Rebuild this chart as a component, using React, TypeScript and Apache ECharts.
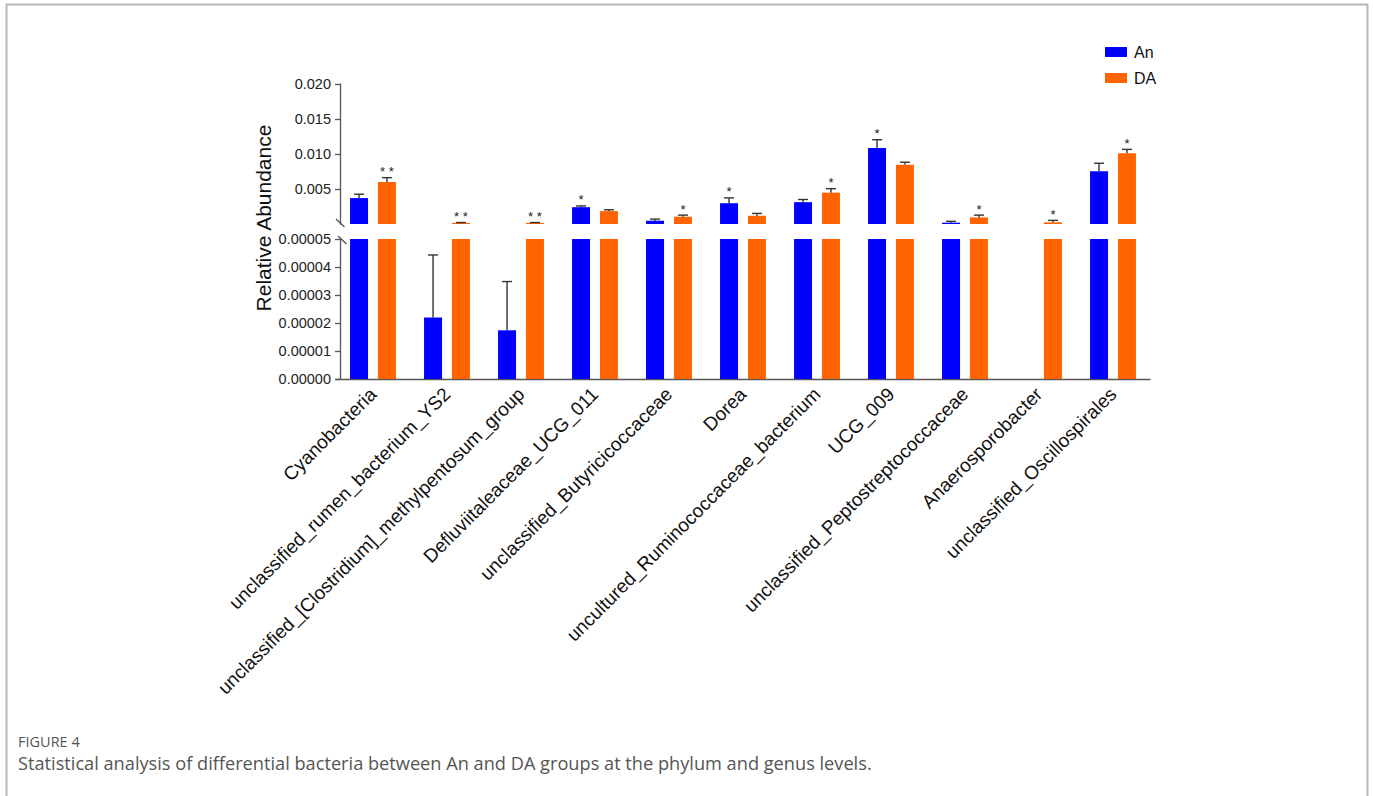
import React, { useEffect, useRef } from 'react';
import * as echarts from 'echarts';

const categories = [
  'Cyanobacteria',
  'unclassified_rumen_bacterium_YS2',
  'unclassified_[Clostridium]_methylpentosum_group',
  'Defluviitaleaceae_UCG_011',
  'unclassified_Butyricicoccaceae',
  'Dorea',
  'uncultured_Ruminococcaceae_bacterium',
  'UCG_009',
  'unclassified_Peptostreptococcaceae',
  'Anaerosporobacter',
  'unclassified_Oscillospirales',
];

const anValues = [0.0037, 0.000022, 0.0000174, 0.0024, 0.00047, 0.00297, 0.00312, 0.01086, 0.00019, 0, 0.00755];
const anErrors = [0.00056, 0.0000223, 0.0000174, 0.00018, 0.00023, 0.00076, 0.00038, 0.00118, 0.00019, 0, 0.00113];
const daValues = [0.006, 0.00016, 0.00016, 0.00184, 0.00104, 0.00118, 0.00448, 0.00845, 0.00094, 0.00024, 0.0101];
const daErrors = [0.00062, 0.00005, 0.00005, 0.00019, 0.00023, 0.00033, 0.00057, 0.00038, 0.00033, 0.00028, 0.00056];
const anStars = ['', '', '', '*', '', '*', '', '*', '', '', ''];
const daStars = ['* *', '* *', '* *', '', '*', '', '*', '', '*', '*', '*'];

const upperTickValues = [0.005, 0.01, 0.015, 0.02];
const lowerTickValues = [0, 0.00001, 0.00002, 0.00003, 0.00004, 0.00005];
const BREAK_VALUE = 0.00005;
const UPPER_MAX = 0.02;
const seriesNames = ['An', 'DA'];
const seriesColors = ['#0000FF', '#FF6400'];
const yAxisTitle = 'Relative Abundance';
const figureLabel = 'FIGURE 4';
const captionText = 'Statistical analysis of differential bacteria between An and DA groups at the phylum and genus levels.';

const FONT = '"Liberation Sans", Arial, Helvetica, sans-serif';
const CAPTION_FONT = '"Open Sans", "Noto Sans", sans-serif';
const BAR_W = 18;
const BAR_GAP = 0.55;
const OFFSET = (BAR_W + BAR_W * BAR_GAP) / 2;

function makeErrRender(sign: number, stars: string[], segment: 'upper' | 'lower') {
  return (params: any, api: any) => {
    const idx = api.value(0);
    const v = api.value(1);
    const e = api.value(2);
    const empty = { type: 'group', children: [] as any[] };
    if (segment === 'upper' && v < BREAK_VALUE) return empty;
    if (segment === 'lower' && (v >= BREAK_VALUE || v <= 0)) return empty;
    const base = api.coord([idx, v]);
    const top = api.coord([idx, v + e]);
    const x = base[0] + sign * OFFSET;
    const style = { stroke: '#333', lineWidth: 1.4 };
    const children: any[] = [
      { type: 'line', shape: { x1: x, y1: base[1], x2: x, y2: top[1] }, style },
      { type: 'line', shape: { x1: x - 5, y1: top[1], x2: x + 5, y2: top[1] }, style },
    ];
    const s = stars[params.dataIndex];
    if (segment === 'upper' && s) {
      children.push({
        type: 'text',
        x,
        y: top[1] - 6,
        style: { text: s, fontSize: 13, fontFamily: FONT, fill: '#222', align: 'center', verticalAlign: 'middle' },
      });
    }
    return { type: 'group', children };
  };
}

export default function App() {
  const ref = useRef<HTMLDivElement>(null);
  useEffect(() => {
    if (!ref.current) return;
    const chart = echarts.init(ref.current, undefined, { renderer: 'svg' });
    const valueSets = [anValues, daValues];
    const errSets = [anErrors, daErrors];
    const starSets = [anStars, daStars];

    const axisLineStyle = { color: '#555', width: 1.3 };
    const series: any[] = [];
    seriesNames.forEach((name, k) => {
      series.push({
        name,
        type: 'bar',
        xAxisIndex: 0,
        yAxisIndex: 0,
        barWidth: BAR_W,
        barGap: `${BAR_GAP * 100}%`,
        itemStyle: { color: seriesColors[k] },
        data: valueSets[k].map((v) => (v >= BREAK_VALUE ? v : '-')),
      });
      series.push({
        name,
        type: 'bar',
        xAxisIndex: 1,
        yAxisIndex: 1,
        barWidth: BAR_W,
        barGap: `${BAR_GAP * 100}%`,
        itemStyle: { color: seriesColors[k] },
        data: valueSets[k].map((v) => Math.min(v, BREAK_VALUE)),
      });
    });
    seriesNames.forEach((name, k) => {
      const sign = k === 0 ? -1 : 1;
      const data = valueSets[k].map((v, i) => [i, v, errSets[k][i]]);
      series.push({
        type: 'custom',
        xAxisIndex: 0,
        yAxisIndex: 0,
        z: 5,
        encode: { x: 0, y: 1 },
        renderItem: makeErrRender(sign, starSets[k], 'upper'),
        data,
      });
      series.push({
        type: 'custom',
        xAxisIndex: 1,
        yAxisIndex: 1,
        z: 5,
        encode: { x: 0, y: 1 },
        renderItem: makeErrRender(sign, starSets[k], 'lower'),
        data,
      });
    });

    chart.setOption({
      animation: false,
      backgroundColor: '#fff',
      textStyle: { fontFamily: FONT },
      legend: {
        data: seriesNames,
        orient: 'vertical',
        left: 1100,
        top: 39,
        itemWidth: 22,
        itemHeight: 10,
        itemGap: 10,
        icon: 'rect',
        textStyle: { fontSize: 16, color: '#111', fontFamily: FONT, padding: [0, 0, 0, 2] },
      },
      grid: [
        { left: 336, top: 84, width: 814, height: 140 },
        { left: 336, top: 239, width: 814, height: 140 },
      ],
      xAxis: [
        {
          type: 'category',
          gridIndex: 0,
          data: categories,
          axisLine: { show: false },
          axisTick: { show: false },
          axisLabel: { show: false },
        },
        {
          type: 'category',
          gridIndex: 1,
          data: categories,
          axisLine: { lineStyle: axisLineStyle },
          axisTick: { alignWithLabel: true, length: 6, lineStyle: axisLineStyle },
          axisLabel: { interval: 0, rotate: 45, fontSize: 19, margin: 12, color: '#111', fontFamily: FONT },
        },
      ],
      yAxis: [
        {
          type: 'value',
          gridIndex: 0,
          min: 0,
          max: UPPER_MAX,
          interval: 0.005,
          offset: -4,
          splitLine: { show: false },
          axisLine: { show: true, lineStyle: axisLineStyle },
          axisTick: { show: true, length: 5, lineStyle: axisLineStyle, customValues: upperTickValues },
          axisLabel: {
            fontSize: 14.5,
            margin: 9,
            color: '#222',
            fontFamily: FONT,
            customValues: upperTickValues,
            formatter: (v: number) => v.toFixed(3),
          },
        },
        {
          type: 'value',
          gridIndex: 1,
          min: 0,
          max: BREAK_VALUE,
          interval: 0.00001,
          offset: -4,
          splitLine: { show: false },
          axisLine: { show: true, lineStyle: axisLineStyle },
          axisTick: { show: true, length: 5, lineStyle: axisLineStyle, customValues: lowerTickValues },
          axisLabel: {
            fontSize: 14.5,
            margin: 9,
            color: '#222',
            fontFamily: FONT,
            customValues: lowerTickValues,
            formatter: (v: number) => v.toFixed(5),
          },
        },
      ],
      graphic: [
        {
          type: 'polyline',
          silent: true,
          shape: { points: [[6.5, 796], [6.5, 4.5], [1367.5, 4.5], [1367.5, 796]] },
          style: { stroke: '#b8b8b8', lineWidth: 2, fill: 'none' },
        },
        {
          type: 'line',
          shape: { x1: 336, y1: 219, x2: 344.5, y2: 227 },
          style: { stroke: '#555', lineWidth: 1.3 },
        },
        {
          type: 'line',
          shape: { x1: 338, y1: 236, x2: 346.5, y2: 244 },
          style: { stroke: '#555', lineWidth: 1.3 },
        },
        {
          type: 'text',
          x: 263,
          y: 218,
          rotation: Math.PI / 2,
          style: {
            text: yAxisTitle,
            fontSize: 21,
            fontFamily: FONT,
            fill: '#111',
            align: 'center',
            verticalAlign: 'middle',
          },
        },
        {
          type: 'text',
          x: 18,
          y: 741,
          style: {
            text: figureLabel,
            fontSize: 14.5,
            fontFamily: CAPTION_FONT,
            fill: '#555',
            verticalAlign: 'middle',
          },
        },
        {
          type: 'text',
          x: 18,
          y: 763,
          style: {
            text: captionText,
            fontSize: 18.2,
            fontFamily: CAPTION_FONT,
            fill: '#555',
            verticalAlign: 'middle',
          },
        },
      ],
      series,
    });
    return () => chart.dispose();
  }, []);
  return (
    <div
      ref={ref}
      style={{ position: 'fixed', left: 0, top: 0, width: 1373, height: 796, background: '#fff' }}
    />
  );
}
